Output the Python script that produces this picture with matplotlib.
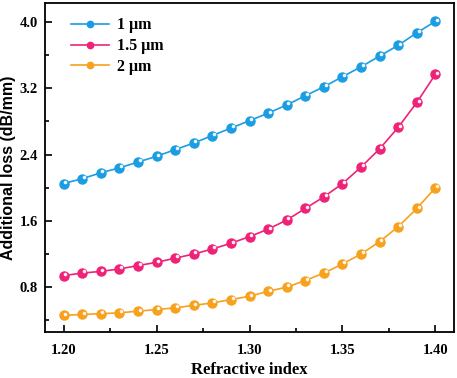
import matplotlib
matplotlib.use('Agg')
import matplotlib.pyplot as plt
from matplotlib.ticker import MultipleLocator, AutoMinorLocator
from matplotlib.transforms import offset_copy

n = [1.20, 1.21, 1.22, 1.23, 1.24, 1.25, 1.26, 1.27, 1.28, 1.29, 1.30,
     1.31, 1.32, 1.33, 1.34, 1.35, 1.36, 1.37, 1.38, 1.39, 1.40]
loss_1um = [2.05, 2.11, 2.18, 2.24, 2.31, 2.38, 2.46, 2.54, 2.63, 2.72, 2.81,
            2.90, 3.00, 3.11, 3.22, 3.34, 3.46, 3.59, 3.72, 3.87, 4.01]
loss_15um = [0.94, 0.97, 0.99, 1.02, 1.06, 1.10, 1.15, 1.20, 1.26, 1.33, 1.41,
             1.50, 1.61, 1.75, 1.89, 2.05, 2.25, 2.47, 2.73, 3.03, 3.37]
loss_2um = [0.46, 0.47, 0.48, 0.49, 0.51, 0.53, 0.55, 0.58, 0.61, 0.65, 0.69,
            0.75, 0.80, 0.88, 0.97, 1.08, 1.20, 1.35, 1.53, 1.75, 2.00]
labels = ['1 μm', '1.5 μm', '2 μm']
colors = ['#1a9de3', '#ef2277', '#f7a11c']

serif = 'Liberation Serif'

fig = plt.figure(figsize=(4.57, 3.78), dpi=100)
ax = fig.add_axes([0.0985, 0.122, 0.895, 0.870])

for y, lab, c in zip([loss_1um, loss_15um, loss_2um], labels, colors):
    ax.plot(n, y, '-o', color=c, lw=1.2, ms=6.5, mec=c, mfc=c, label=lab)
    # small highlight to mimic the shaded ball markers
    hl = offset_copy(ax.transData, fig=fig, x=1.2, y=1.2, units='points')
    ax.plot(n, y, 'o', color='white', ms=1.6, alpha=0.85, transform=hl)

ax.set_xlim(1.19, 1.41)
ax.set_ylim(0.26, 4.23)
ax.xaxis.set_major_locator(MultipleLocator(0.05))
ax.xaxis.set_minor_locator(AutoMinorLocator(2))
ax.yaxis.set_major_locator(MultipleLocator(0.8))
ax.yaxis.set_minor_locator(AutoMinorLocator(2))
ax.xaxis.set_major_formatter(plt.FormatStrFormatter('%.2f'))
ax.yaxis.set_major_formatter(plt.FormatStrFormatter('%.1f'))
ax.tick_params(which='both', direction='in', width=1.2)
ax.tick_params(which='major', length=5)
ax.tick_params(axis='x', which='major', pad=9)
ax.tick_params(axis='y', which='major', pad=5)
ax.tick_params(which='minor', length=3)
for s in ax.spines.values():
    s.set_linewidth(1.3)
for t in ax.get_xticklabels() + ax.get_yticklabels():
    t.set_fontfamily(serif)
    t.set_fontweight('bold')
    t.set_fontsize(10.5)

ax.set_xlabel('Refractive index', fontfamily=serif, fontweight='bold',
              fontsize=12, labelpad=3)
ax.set_ylabel('Additional loss (dB/mm)', fontfamily='Liberation Sans',
              fontweight='bold', fontsize=11.5, labelpad=3)

leg = ax.legend(loc='upper left', frameon=False, handlelength=2.4,
                markerscale=0.7, borderaxespad=0.3, labelspacing=0.3,
                handletextpad=0.5, bbox_to_anchor=(0.035, 0.99),
                prop={'family': serif, 'weight': 'bold', 'size': 11.5})

fig.savefig('out.png', dpi=100)
